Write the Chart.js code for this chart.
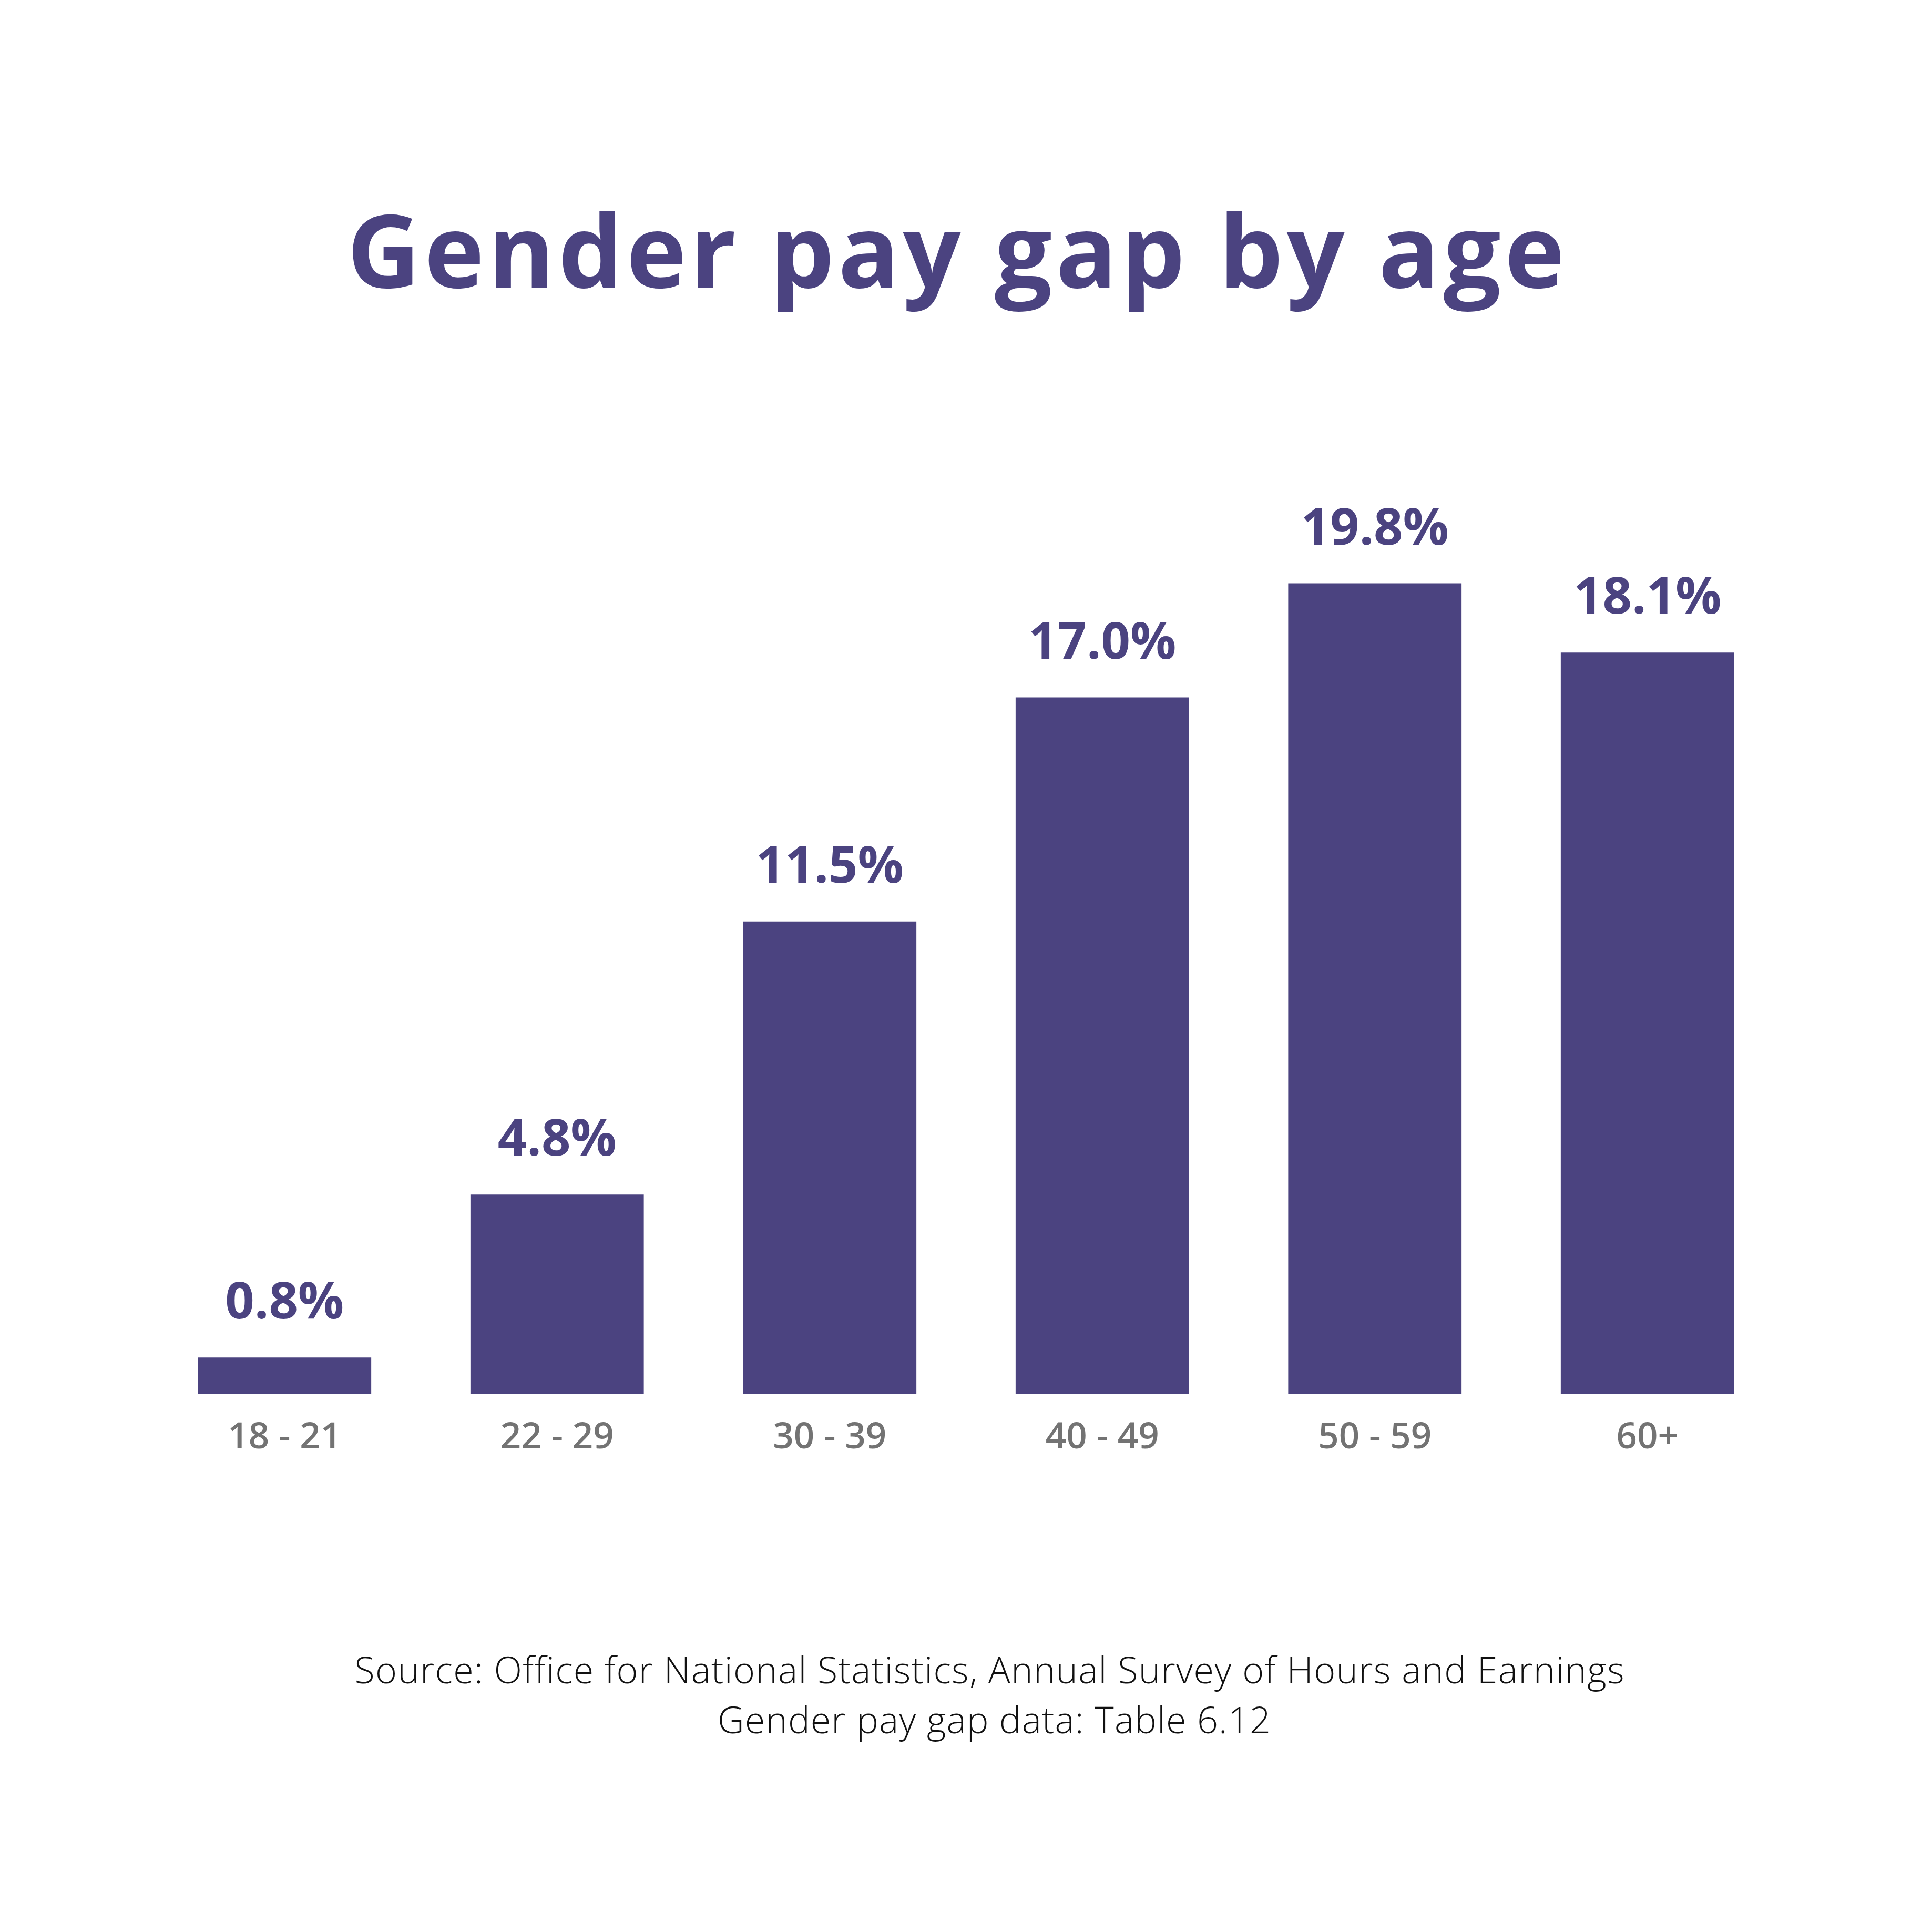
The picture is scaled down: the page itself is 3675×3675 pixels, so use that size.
<!DOCTYPE html>
<html>
<head>
<meta charset="utf-8">
<script src="https://cdn.jsdelivr.net/npm/chart.js@4.4.1/dist/chart.umd.min.js"></script>
<style>
  html, body { margin: 0; padding: 0; background: #ffffff; }
  #wrap { width: 3675px; height: 3675px; }
  canvas { display: block; }
</style>
</head>
<body>
<div id="wrap"><canvas id="c" width="3675" height="3675"></canvas></div>
<script>
const TITLE = "Gender pay gap by age";
const SOURCE_LINES = [
  "Source: Office for National Statistics, Annual Survey of Hours and Earnings",
  "Gender pay gap data: Table 6.12"
];
const categories = ["18 - 21", "22 - 29", "30 - 39", "40 - 49", "50 - 59", "60+"];
const payGap = [0.8, 4.8, 11.5, 17.0, 19.8, 18.1];

const PURPLE = "#4B4380";
const GREY = "#737373";

function drawFitted(ctx, text, x, y, targetWidth) {
  ctx.letterSpacing = "0px";
  const w = ctx.measureText(text).width;
  const n = Math.max(1, text.length - 1);
  const ls = (targetWidth - w) / n;
  ctx.letterSpacing = ls + "px";
  ctx.textAlign = "center";
  ctx.fillText(text, x + ls / 2, y);
  ctx.letterSpacing = "0px";
}

const textPlugin = {
  id: "textPlugin",
  afterDraw(chart) {
    const ctx = chart.ctx;
    ctx.save();
    ctx.fillStyle = PURPLE;
    ctx.font = "700 193px 'Open Sans'";
    ctx.textBaseline = "alphabetic";
    drawFitted(ctx, TITLE, 1818, 547, 2316);
    ctx.fillStyle = "#111111";
    ctx.font = "300 70px 'Open Sans'";
    drawFitted(ctx, SOURCE_LINES[0], 1882, 3202, 2415);
    drawFitted(ctx, SOURCE_LINES[1], 1891, 3297, 1052);
    ctx.restore();
  },
  afterDatasetsDraw(chart) {
    const ctx = chart.ctx;
    const meta = chart.getDatasetMeta(0);
    ctx.save();
    ctx.fillStyle = PURPLE;
    ctx.font = "700 97px 'Open Sans'";
    ctx.textAlign = "center";
    ctx.textBaseline = "alphabetic";
    meta.data.forEach((bar, i) => {
      ctx.fillText(payGap[i].toFixed(1) + "%", bar.x, bar.y - 74);
    });
    ctx.restore();
  }
};

new Chart(document.getElementById("c"), {
  type: "bar",
  data: {
    labels: categories,
    datasets: [{
      data: payGap,
      base: -0.1,
      backgroundColor: PURPLE,
      borderWidth: 0,
      categoryPercentage: 1.0,
      barPercentage: 0.636
    }]
  },
  options: {
    responsive: false,
    devicePixelRatio: 1,
    animation: false,
    layout: { padding: { top: 939, left: 282, right: 282, bottom: 0 } },
    plugins: {
      legend: { display: false },
      tooltip: { enabled: false },
      title: { display: false }
    },
    scales: {
      x: {
        grid: { display: false, drawTicks: false },
        border: { display: false },
        ticks: {
          color: GREY,
          font: { family: "'Open Sans'", weight: "600", size: 69, lineHeight: 1.2 },
          padding: 42,
          maxRotation: 0
        },
        afterFit(scale) { scale.height = 1023; }
      },
      y: {
        display: false,
        min: -0.1,
        max: 22
      }
    }
  },
  plugins: [textPlugin]
});
</script>
</body>
</html>
